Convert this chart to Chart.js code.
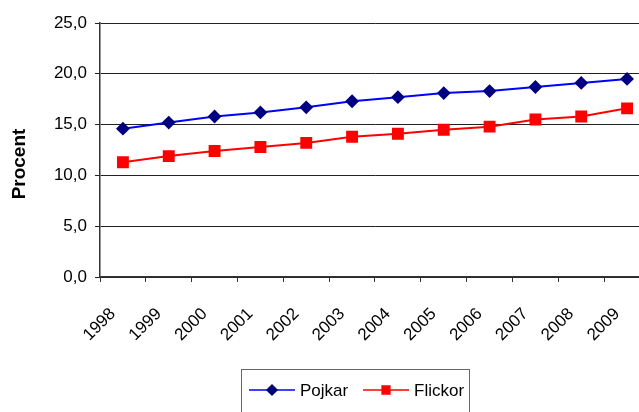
<!DOCTYPE html>
<html>
<head>
<meta charset="utf-8">
<script src="https://cdn.jsdelivr.net/npm/chart.js@4"></script>
<style>
  html, body { margin: 0; padding: 0; background: #fff; }
  /* the original plot runs past the right edge, so the canvas is wider and clipped */
  #wrap { width: 639px; height: 412px; overflow: hidden; position: relative; }
  #chart { position: absolute; left: 0; top: 0; }
</style>
</head>
<body>
<div id="wrap"><canvas id="chart" width="664" height="412"></canvas></div>
<script>
// data
var years = ["1998", "1999", "2000", "2001", "2002", "2003", "2004", "2005", "2006", "2007", "2008", "2009"];
var pojkar = [14.6, 15.2, 15.8, 16.2, 16.7, 17.3, 17.7, 18.1, 18.3, 18.7, 19.1, 19.5];
var flickor = [11.3, 11.9, 12.4, 12.8, 13.2, 13.8, 14.1, 14.5, 14.8, 15.5, 15.8, 16.6];
var yTicks = [0, 5, 10, 15, 20, 25];
var yTitle = 'Procent';

var font = "'Liberation Sans', Arial, sans-serif";

// y title sits a bit below the middle in the original, so draw it by hand
var sideTitle = {
  id: 'sideTitle',
  afterDraw: function(chart) {
    var ctx = chart.ctx;
    ctx.save();
    ctx.translate(20, 164);
    ctx.rotate(-Math.PI / 2);
    ctx.font = 'bold 19px ' + font;
    ctx.fillStyle = '#000';
    ctx.textAlign = 'center';
    ctx.textBaseline = 'middle';
    ctx.fillText(yTitle, 0, 0);
    ctx.restore();
  }
};

// legend drawn by hand: line + marker, framed box
var boxLegend = {
  id: 'boxLegend',
  afterDraw: function(chart) {
    var ctx = chart.ctx;
    ctx.save();
    ctx.strokeStyle = '#666';
    ctx.lineWidth = 1;
    ctx.strokeRect(241.5, 369.5, 228, 60);
    ctx.font = '17px ' + font;
    ctx.textBaseline = 'middle';
    var cy = 390;
    var xs = [249, 363];
    var sizes = [5, 5.5];
    chart.data.datasets.forEach(function(ds, i) {
      var lx = xs[i];
      ctx.strokeStyle = ds.borderColor;
      ctx.lineWidth = 1.5;
      ctx.beginPath();
      ctx.moveTo(lx, cy);
      ctx.lineTo(lx + 46, cy);
      ctx.stroke();
      ctx.fillStyle = ds.pointBackgroundColor;
      ctx.strokeStyle = ds.pointBorderColor;
      Chart.helpers.drawPoint(ctx, {
        pointStyle: ds.pointStyle,
        radius: sizes[i],
        borderWidth: 1
      }, lx + 23, cy);
      ctx.fillStyle = '#000';
      ctx.fillText(ds.label, lx + 51, cy + 1);
    });
    ctx.restore();
  }
};

new Chart(document.getElementById('chart'), {
  type: 'line',
  data: {
    labels: years,
    datasets: [{
      label: 'Pojkar',
      data: pojkar,
      borderColor: '#0000FF',
      borderWidth: 2,
      pointStyle: 'rectRot',
      pointRadius: 5.5,
      pointBackgroundColor: '#000080',
      pointBorderColor: '#000080',
      tension: 0
    }, {
      label: 'Flickor',
      data: flickor,
      borderColor: '#FF0000',
      borderWidth: 2,
      pointStyle: 'rect',
      pointRadius: 7,
      pointBackgroundColor: '#FF0000',
      pointBorderColor: '#FF0000',
      tension: 0
    }]
  },
  options: {
    responsive: false,
    animation: false,
    layout: { padding: { left: 0, top: 23, right: 12, bottom: 0 } },
    plugins: {
      legend: { display: false },
      tooltip: { enabled: false }
    },
    scales: {
      x: {
        offset: true,
        grid: {
          offset: true,
          drawOnChartArea: false,
          drawTicks: true,
          tickLength: 5,
          color: '#333'
        },
        border: { color: '#333', width: 1.5 },
        ticks: {
          color: '#000',
          font: { family: font, size: 17 },
          minRotation: 45,
          maxRotation: 45,
          padding: 22,
          labelOffset: -10
        },
        afterFit: function(s) { s.height = 135; }
      },
      y: {
        min: 0,
        max: 25,
        afterBuildTicks: function(s) { s.ticks = yTicks.map(function(v) { return { value: v }; }); },
        grid: {
          color: '#222',
          lineWidth: 1,
          tickLength: 5
        },
        border: { color: '#333', width: 1.5 },
        ticks: {
          color: '#000',
          font: { family: font, size: 17 },
          padding: 8,
          callback: function(v) { return v.toFixed(1).replace('.', ','); }
        },
        afterFit: function(s) { s.width = 100; }
      }
    }
  },
  plugins: [sideTitle, boxLegend]
});
</script>
</body>
</html>
